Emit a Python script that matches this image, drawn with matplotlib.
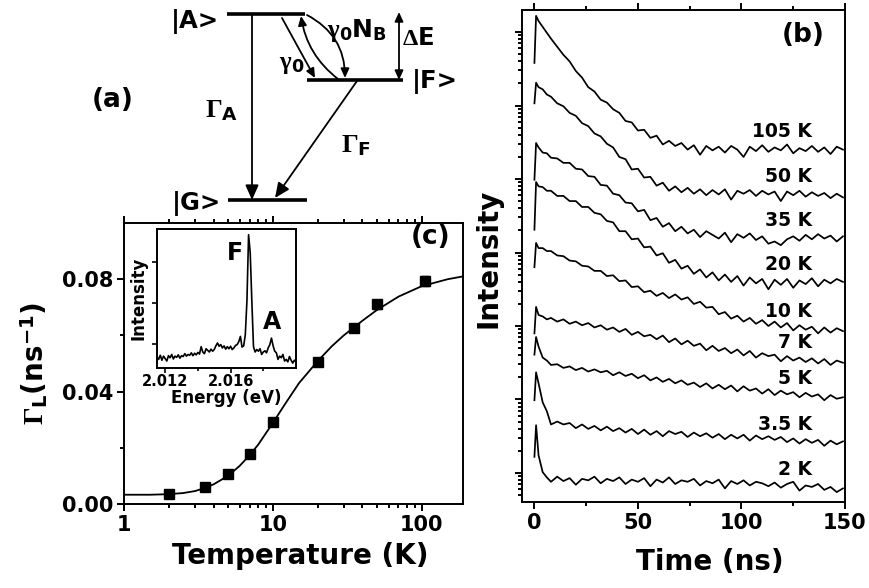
import numpy as np
import matplotlib
matplotlib.use("Agg")
import matplotlib.pyplot as plt
from matplotlib.ticker import LogLocator, NullFormatter

plt.rcParams['font.family'] = ['DejaVu Sans']
plt.rcParams['font.weight'] = 'bold'
plt.rcParams['axes.labelweight'] = 'bold'
plt.rcParams['mathtext.fontset'] = 'custom'
plt.rcParams['mathtext.rm'] = 'Liberation Serif'
plt.rcParams['mathtext.bf'] = 'DejaVu Sans:bold'
plt.rcParams['mathtext.it'] = 'Liberation Serif:italic'
plt.rcParams['axes.linewidth'] = 1.4

# ---- panel (b): PL decays, log10(intensity) as stacked in the figure
time_ns = np.concatenate([[0, 0.8, 2, 4, 6], np.arange(8, 150, 3)])
decay_names = ['105 K', '50 K', '35 K', '20 K', '10 K', '7 K', '5 K', '3.5 K', '2 K']
decay_105K = [5.58, 6.22, 6.15, 6.07, 5.99, 5.91, 5.80, 5.69, 5.60, 5.47, 5.38, 5.25, 5.19, 5.08,
              5.04, 4.95, 4.90, 4.79, 4.77, 4.66, 4.67, 4.56, 4.59, 4.47, 4.52, 4.45, 4.49, 4.40,
              4.46, 4.33, 4.45, 4.39, 4.44, 4.36, 4.45, 4.40, 4.30, 4.44, 4.38, 4.46, 4.37, 4.43,
              4.39, 4.47, 4.35, 4.42, 4.38, 4.45, 4.37, 4.43, 4.34, 4.44, 4.40]
decay_50K = [5.03, 5.31, 5.25, 5.22, 5.15, 5.12, 5.03, 4.99, 4.90, 4.86, 4.76, 4.72, 4.62, 4.58,
             4.48, 4.43, 4.30, 4.27, 4.13, 4.14, 4.02, 4.03, 3.91, 3.95, 3.84, 3.90, 3.82, 3.88,
             3.80, 3.86, 3.78, 3.85, 3.79, 3.86, 3.72, 3.84, 3.80, 3.85, 3.77, 3.84, 3.79, 3.83,
             3.70, 3.83, 3.78, 3.84, 3.76, 3.82, 3.77, 3.81, 3.74, 3.80, 3.75]
decay_35K = [3.99, 4.49, 4.43, 4.36, 4.35, 4.29, 4.28, 4.22, 4.22, 4.14, 4.13, 4.04, 4.03, 3.92,
             3.91, 3.80, 3.78, 3.68, 3.67, 3.56, 3.58, 3.44, 3.47, 3.35, 3.40, 3.29, 3.35, 3.26,
             3.31, 3.21, 3.29, 3.24, 3.19, 3.27, 3.14, 3.25, 3.20, 3.26, 3.17, 3.22, 3.12, 3.15,
             3.10, 3.18, 3.22, 3.16, 3.24, 3.18, 3.25, 3.19, 3.23, 3.15, 3.22]
decay_20K = [3.31, 3.96, 3.90, 3.89, 3.84, 3.84, 3.77, 3.77, 3.70, 3.70, 3.62, 3.62, 3.54, 3.52,
             3.43, 3.41, 3.29, 3.29, 3.18, 3.19, 3.07, 3.08, 2.96, 2.99, 2.86, 2.90, 2.78, 2.82,
             2.71, 2.77, 2.66, 2.73, 2.62, 2.70, 2.60, 2.68, 2.55, 2.66, 2.58, 2.64, 2.50, 2.63,
             2.56, 2.64, 2.52, 2.62, 2.57, 2.65, 2.54, 2.63, 2.58, 2.64, 2.60]
decay_10K = [2.80, 3.13, 3.06, 3.06, 3.02, 3.02, 2.96, 2.95, 2.89, 2.88, 2.82, 2.81, 2.75, 2.75,
             2.68, 2.69, 2.61, 2.62, 2.53, 2.54, 2.46, 2.48, 2.41, 2.45, 2.38, 2.43, 2.36, 2.39,
             2.30, 2.33, 2.25, 2.26, 2.16, 2.19, 2.10, 2.14, 2.06, 2.11, 2.03, 2.08, 2.00, 2.06,
             1.98, 2.04, 1.94, 2.01, 1.95, 1.99, 1.90, 1.98, 1.91, 1.97, 1.93]
decay_7K = [1.90, 2.26, 2.15, 2.13, 2.09, 2.11, 2.06, 2.09, 2.03, 2.06, 2.01, 2.04, 1.98, 2.01,
            1.95, 1.98, 1.92, 1.96, 1.88, 1.92, 1.86, 1.88, 1.82, 1.87, 1.78, 1.83, 1.75, 1.80,
            1.73, 1.76, 1.67, 1.73, 1.66, 1.70, 1.63, 1.68, 1.60, 1.66, 1.57, 1.63, 1.59, 1.61,
            1.52, 1.59, 1.53, 1.57, 1.51, 1.56, 1.49, 1.55, 1.47, 1.53, 1.50]
decay_5K = [1.61, 1.85, 1.72, 1.57, 1.53, 1.47, 1.48, 1.43, 1.45, 1.40, 1.43, 1.38, 1.41, 1.37,
            1.39, 1.33, 1.37, 1.32, 1.35, 1.29, 1.33, 1.26, 1.30, 1.24, 1.28, 1.22, 1.26, 1.20,
            1.23, 1.17, 1.22, 1.15, 1.20, 1.14, 1.19, 1.11, 1.18, 1.12, 1.15, 1.08, 1.14, 1.06,
            1.12, 1.07, 1.10, 1.03, 1.09, 1.04, 1.07, 0.99, 1.06, 1.01, 1.03]
decay_3p5K = [0.99, 1.37, 1.22, 0.96, 0.84, 0.66, 0.70, 0.66, 0.68, 0.61, 0.66, 0.60, 0.64, 0.58,
              0.63, 0.57, 0.61, 0.55, 0.60, 0.53, 0.59, 0.52, 0.57, 0.50, 0.57, 0.53, 0.56, 0.49,
              0.55, 0.50, 0.54, 0.48, 0.53, 0.46, 0.52, 0.47, 0.52, 0.44, 0.51, 0.46, 0.50, 0.45,
              0.49, 0.42, 0.47, 0.40, 0.46, 0.41, 0.45, 0.37, 0.44, 0.39, 0.43]
decay_2K = [0.22, 0.65, 0.24, 0.01, -0.06, -0.12, -0.05, -0.11, -0.07, -0.16, -0.08, -0.10, -0.05,
            -0.14, -0.08, -0.11, -0.06, -0.15, -0.09, -0.12, -0.07, -0.18, -0.09, -0.13, -0.06,
            -0.15, -0.10, -0.12, -0.08, -0.17, -0.11, -0.14, -0.09, -0.21, -0.11, -0.15, -0.10,
            -0.17, -0.12, -0.14, -0.18, -0.13, -0.20, -0.15, -0.12, -0.24, -0.17, -0.19, -0.15,
            -0.23, -0.19, -0.26, -0.21]
decays = [decay_105K, decay_50K, decay_35K, decay_20K, decay_10K,
          decay_7K, decay_5K, decay_3p5K, decay_2K]

# ---- panel (c): decay rate vs temperature
temps = [2, 3.5, 5, 7, 10, 20, 35, 50, 105]
gamma_L = [0.0036, 0.0061, 0.0106, 0.0179, 0.0293, 0.0507, 0.0625, 0.0711, 0.0793]
gamma_err = [0.0004, 0.0004, 0.0005, 0.0005, 0.0006, 0.0007, 0.0012, 0.0016, 0.0017]
fit_T = [1, 1.5, 2, 2.5, 3, 3.5, 4, 5, 6, 7, 8, 10, 12, 15, 20, 25, 30, 40, 50, 70, 100, 150, 190]
fit_gamma = [0.0033, 0.0033, 0.0035, 0.0039, 0.0046, 0.0057, 0.0070, 0.0100, 0.0136, 0.0174,
             0.0212, 0.0288, 0.0353, 0.0430, 0.0508, 0.0562, 0.0600, 0.0652, 0.0690, 0.0738,
             0.0775, 0.0800, 0.0810]

# ---- inset: PL spectrum
spec_energy = np.linspace(2.0115, 2.0200, 86)
spec_int = [0.68, 0.62, 0.72, 0.60, 0.70, 0.64, 0.58, 0.71, 0.66, 0.74, 0.63, 0.70, 0.67, 0.73,
            0.65, 0.71, 0.69, 0.76, 0.70, 0.74, 0.72, 0.78, 0.71, 0.77, 0.73, 0.79, 0.75, 0.93,
            0.80, 0.76, 0.88, 0.84, 0.80, 0.87, 0.82, 0.86, 0.95, 1.02, 0.94, 0.98, 0.90, 0.95,
            0.87, 0.93, 0.88, 0.94, 0.86, 0.90, 0.96, 0.98, 1.05, 1.18, 0.92, 0.95, 1.22, 2.05,
            3.66, 3.22, 2.04, 0.93, 0.80, 0.86, 0.82, 0.88, 0.74, 0.80, 0.83, 0.78, 0.90, 0.98,
            1.14, 0.95, 0.82, 0.78, 0.62, 0.70, 0.66, 0.74, 0.58, 0.62, 0.56, 0.69, 0.60, 0.53,
            0.60, 0.56]

W, H = 870, 588
fig = plt.figure(figsize=(W / 100, H / 100), dpi=100)
fig.patch.set_facecolor('white')

# ---------------- (a) level scheme, drawn in pixel coordinates
ax_d = fig.add_axes([0, 0, 1, 1])
ax_d.set_xlim(0, W)
ax_d.set_ylim(H, 0)
ax_d.axis('off')

for x0, x1, y in [(227, 305, 14), (307, 403, 80), (228, 307, 200)]:
    ax_d.plot([x0, x1], [y, y], color='k', lw=2.6, solid_capstyle='butt')


def arrow(p0, p1, style, rad=0.0):
    ax_d.annotate('', xy=p1, xytext=p0,
                  arrowprops=dict(arrowstyle=style, color='k', lw=1.3, shrinkA=0, shrinkB=0,
                                  mutation_scale=10, connectionstyle=f'arc3,rad={rad}'))


big_head = '-|>,head_length=0.9,head_width=0.4'
small_head = '-|>,head_length=0.55,head_width=0.25'
arrow((252, 14), (252, 200), big_head)
arrow((357, 81), (275, 198), big_head)
arrow((282, 18), (315, 78), small_head)
arrow((338, 79), (301, 16), small_head, rad=-0.2)
arrow((307, 15), (345, 78), small_head, rad=-0.3)
arrow((399, 12), (399, 80), '<|-|>,head_length=0.55,head_width=0.25')

ax_d.text(219, 22, '|A>', ha='right', va='center', fontsize=17.5)
ax_d.text(412, 82, '|F>', ha='left', va='center', fontsize=17.5)
ax_d.text(221, 203, '|G>', ha='right', va='center', fontsize=17.5)
ax_d.text(113, 100, '(a)', ha='center', va='center', fontsize=19)
ax_d.text(205, 110, r'$\mathrm{\Gamma}_{\mathbf{A}}$', ha='left', va='center', fontsize=19)
ax_d.text(341, 145, r'$\mathrm{\Gamma}_{\mathbf{F}}$', ha='left', va='center', fontsize=19)
ax_d.text(279, 64, r'$\mathrm{\gamma}_{\mathbf{0}}$', ha='left', va='center', fontsize=18)
ax_d.text(327, 31, r'$\mathrm{\gamma}_{\mathbf{0}}\mathbf{N}_{\mathbf{B}}$',
          ha='left', va='center', fontsize=18)
ax_d.text(402, 38, r'$\Delta$E', ha='left', va='center', fontsize=17.5)

# ---------------- (c) rate vs temperature
ax_c = fig.add_axes([124 / W, 1 - 504 / H, 339 / W, 281 / H])
ax_c.plot(fit_T, fit_gamma, color='k', lw=1.3)
ax_c.errorbar(temps, gamma_L, yerr=gamma_err, fmt='s', color='k', ms=7, capsize=3,
              elinewidth=1, capthick=1)
ax_c.set_xscale('log')
ax_c.set_xlim(1, 190)
ax_c.set_ylim(0, 0.1)
ax_c.set_xticks([1, 10, 100], ['1', '10', '100'])
ax_c.xaxis.set_minor_locator(LogLocator(base=10, subs=np.arange(2, 10), numticks=50))
ax_c.xaxis.set_minor_formatter(NullFormatter())
ax_c.set_yticks([0, 0.04, 0.08], ['0.00', '0.04', '0.08'])
ax_c.set_yticks([0.02, 0.06], minor=True)
ax_c.tick_params(which='both', direction='out', labelsize=15, width=1.4, top=True)
ax_c.tick_params(which='major', length=5, pad=3)
ax_c.tick_params(which='minor', length=3)
ax_c.tick_params(axis='x', which='both', top=True, labeltop=False)
ax_c.set_xlabel('Temperature (K)', fontsize=20)
ax_c.xaxis.set_label_coords(0.52, -0.135)
ax_c.set_ylabel(r'$\mathrm{\Gamma}_{\mathbf{L}}$(ns$^{\mathbf{-1}}$)', fontsize=20)
ax_c.yaxis.set_label_coords(-0.218, 0.5)
ax_c.text(0.903, 0.95, '(c)', transform=ax_c.transAxes, ha='center', va='center', fontsize=19)

# inset spectrum
ax_i = fig.add_axes([157 / W, 1 - 368 / H, 139 / W, 139 / H])
ax_i.plot(spec_energy, spec_int, color='k', lw=1.2)
ax_i.set_xlim(2.0115, 2.0200)
ax_i.set_ylim(0.41, 3.8)
ax_i.set_xticks([2.012, 2.016], ['2.012', '2.016'])
ax_i.set_xticks([2.014, 2.018], minor=True)
ax_i.set_yticks([1, 2, 3], [])
ax_i.tick_params(which='both', direction='out', labelsize=10.5, width=1.2, pad=1)
ax_i.tick_params(which='major', length=3.5)
ax_i.tick_params(which='minor', length=2)
ax_i.set_xlabel('Energy (eV)', fontsize=12, labelpad=0)
ax_i.set_ylabel('Intensity', fontsize=12, labelpad=2)
ax_i.text(2.01624, 3.22, 'F', ha='center', va='center', fontsize=17)
ax_i.text(2.01855, 1.54, 'A', ha='center', va='center', fontsize=17)

# ---------------- (b) decays
ax_b = fig.add_axes([522 / W, 1 - 502 / H, 323 / W, 492 / H])
for vals in decays:
    ax_b.plot(time_ns, np.power(10.0, vals), color='k', lw=1.25)
for name, vals in zip(decay_names, decays):
    ax_b.text(134, 10 ** (np.mean(vals[-10:]) + 0.24), name, ha='right', va='center',
              fontsize=13.5)
ax_b.set_yscale('log')
ax_b.set_xlim(-6, 150)
ax_b.set_ylim(10 ** -0.395, 10 ** 6.3)
ax_b.yaxis.set_major_locator(LogLocator(base=10, numticks=20))
ax_b.yaxis.set_minor_locator(LogLocator(base=10, subs=np.arange(2, 10), numticks=100))
ax_b.yaxis.set_major_formatter(NullFormatter())
ax_b.yaxis.set_minor_formatter(NullFormatter())
ax_b.set_xticks([0, 50, 100, 150])
ax_b.set_xticks([25, 75, 125], minor=True)
ax_b.tick_params(which='both', direction='out', labelsize=15, width=1.4)
ax_b.tick_params(which='major', length=5, pad=3)
ax_b.tick_params(which='minor', length=3)
ax_b.tick_params(axis='x', which='both', top=True, labeltop=False)
ax_b.set_xlabel('Time (ns)', fontsize=20)
ax_b.xaxis.set_label_coords(0.58, -0.094)
ax_b.set_ylabel('Intensity', fontsize=20)
ax_b.yaxis.set_label_coords(-0.059, 0.496)
ax_b.text(0.87, 0.949, '(b)', transform=ax_b.transAxes, ha='center', va='center', fontsize=19)

fig.savefig('out.png', dpi=100, facecolor='white')
